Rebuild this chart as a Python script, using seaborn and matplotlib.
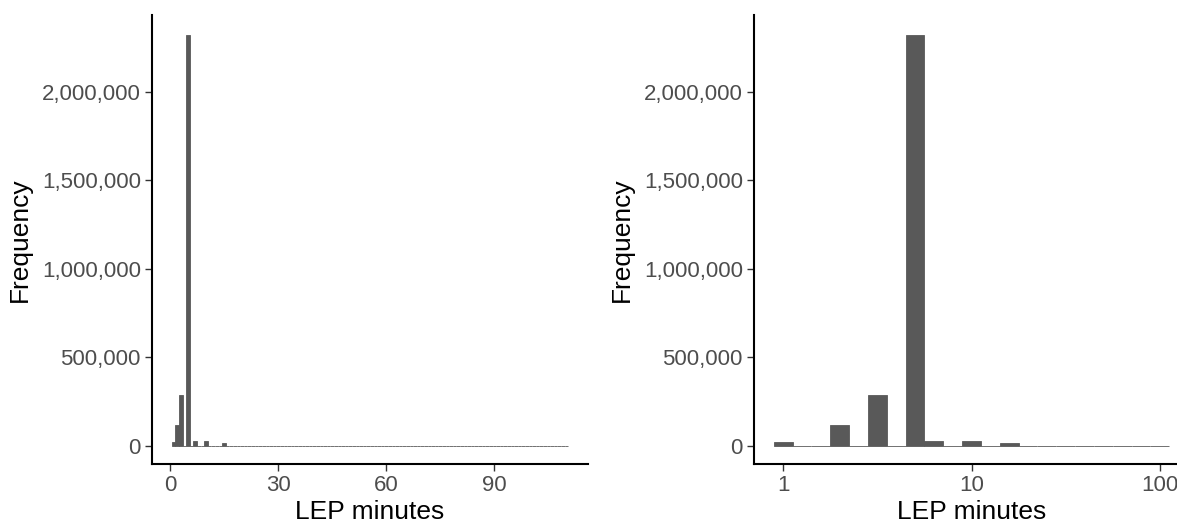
import matplotlib
matplotlib.use("Agg")
import matplotlib.pyplot as plt
import matplotlib.ticker as mticker
import seaborn as sns
import pandas as pd

# Data: LEP minutes values and their frequencies
lep_minutes = [1, 2, 3, 5, 7, 10, 15]
frequency = [22000, 120000, 290000, 2322000, 29000, 29000, 18000]
max_minutes = 110

x_ticks_linear = [0, 30, 60, 90]
x_ticks_log = [1, 10, 100]
y_ticks = [0, 500000, 1000000, 1500000, 2000000]

df = pd.DataFrame({"minutes": lep_minutes, "freq": frequency})

sns.set_style("white")
plt.rcParams["font.family"] = ["Liberation Sans", "DejaVu Sans"]

W, H = 1177, 527
fig = plt.figure(figsize=(W / 100, H / 100), dpi=100)

bar_color = "#595959"
tick_col = "#4D4D4D"

def style_axes(ax):
    ax.spines["top"].set_visible(False)
    ax.spines["right"].set_visible(False)
    for s in ("left", "bottom"):
        ax.spines[s].set_color("black")
        ax.spines[s].set_linewidth(1.5)
    ax.tick_params(axis="both", direction="out", length=5, width=1.0,
                   color="#333333", labelcolor=tick_col, labelsize=16, pad=3,
                   bottom=True, left=True)
    ax.yaxis.set_major_formatter(mticker.FuncFormatter(lambda v, p: f"{int(v):,}"))
    ax.set_yticks(y_ticks)
    ax.set_ylim(-101700, 2435000)
    ax.set_ylabel("Frequency", fontsize=19, color="black", labelpad=7)
    ax.set_xlabel("LEP minutes", fontsize=19, color="black", labelpad=3)
    ax.grid(False)

# Left: linear scale
ax1 = fig.add_axes([152 / W, (H - 464) / H, 436 / W, 449 / H])
sns.histplot(data=df, x="minutes", weights="freq", binwidth=1,
             binrange=(0.5, max_minutes + 0.5), color=bar_color, alpha=1,
             edgecolor=bar_color, linewidth=0.6, ax=ax1)
ax1.set_xlim(-5, 116)
ax1.set_xticks(x_ticks_linear)
style_axes(ax1)

# Right: log10 scale
ax2 = fig.add_axes([754 / W, (H - 464) / H, 435 / W, 449 / H])
sns.histplot(data=df, x="minutes", weights="freq", log_scale=True, binwidth=0.1,
             binrange=(-0.05, 2.05), color=bar_color, alpha=1,
             edgecolor=bar_color, linewidth=0.6, ax=ax2)
ax2.set_xlim(10 ** -0.155, 10 ** 2.155)
ax2.set_xticks(x_ticks_log)
ax2.xaxis.set_major_formatter(mticker.FuncFormatter(lambda v, p: f"{int(round(v))}"))
ax2.xaxis.set_minor_locator(mticker.NullLocator())
style_axes(ax2)

fig.savefig("out.png", dpi=100)
